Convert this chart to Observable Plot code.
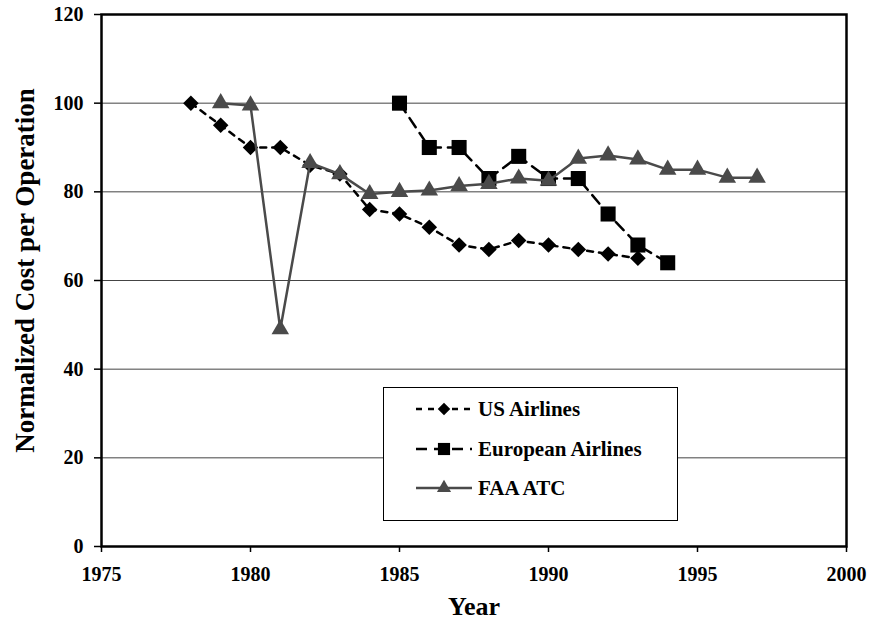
<!DOCTYPE html>
<html><head><meta charset="utf-8">
<script src="https://cdn.jsdelivr.net/npm/d3@7"></script>
<script src="https://cdn.jsdelivr.net/npm/@observablehq/plot@0.6"></script>
<style>
body{margin:0;background:#fff;}
#wrap{position:relative;width:873px;height:620px;}
#wrap svg, #wrap svg text{font-family:"Liberation Serif","Times New Roman",serif !important;font-weight:bold;}
#legend{position:absolute;left:383px;top:387px;width:295px;height:134px;border:1px solid #000;background:#fff;box-sizing:border-box;}
</style></head><body>
<div id="wrap"><div id="chart"></div><div id="legend"></div></div>
<script>
const seriesNames = ["US Airlines", "European Airlines", "FAA ATC"];
const usYears  = [1978,1979,1980,1981,1982,1983,1984,1985,1986,1987,1988,1989,1990,1991,1992,1993];
const usValues = [100, 95, 90, 90, 86, 84, 76, 75, 72, 68, 67, 69, 68, 67, 66, 65];
const euYears  = [1985,1986,1987,1988,1989,1990,1991,1992,1993,1994];
const euValues = [100, 90, 90, 83, 88, 83, 83, 75, 68, 64];
const faaYears  = [1979,1980,1981,1982,1983,1984,1985,1986,1987,1988,1989,1990,1991,1992,1993,1994,1995,1996,1997];
const faaValues = [100, 99.5, 49, 86.5, 84, 79.5, 80, 80.3, 81.3, 81.8, 83, 82.5, 87.5, 88.2, 87.3, 85, 85, 83.2, 83.2];
const xTicks = [1975,1980,1985,1990,1995,2000];
const yTicks = [0,20,40,60,80,100,120];
const gridTicks = [20,40,60,80,100];

const FONT = "Liberation Serif";
const toRows = (years, values) => years.map((x, i) => ({x, y: values[i]}));
const us = toRows(usYears, usValues);
const eu = toRows(euYears, euValues);
const faa = toRows(faaYears, faaValues);

const styles = [
  {stroke:"#000", strokeWidth:2.5, dash:"6,6", symbol:"diamond2", r:7, fill:"#000"},
  {stroke:"#000", strokeWidth:2.5, dash:"11,7", symbol:"square", r:8.5, fill:"#000"},
  {stroke:"#4a4a4a", strokeWidth:2.5, dash:null, symbol:"triangle", r:6.5, fill:"#4a4a4a"}
];

const lineMark = (data, s) => Plot.line(data, {x:"x", y:"y", stroke:s.stroke, strokeWidth:s.strokeWidth, strokeDasharray:s.dash});
const dotMark = (data, s) => Plot.dot(data, {x:"x", y:"y", symbol:()=>s.symbol, r:s.r, fill:s.fill, stroke:"none"});

const chart = Plot.plot({
  width:873, height:620,
  marginLeft:101, marginRight:27, marginTop:14, marginBottom:74,
  style:{fontFamily:FONT, fontWeight:"bold", fontSize:"20px", background:"#fff", color:"#000"},
  x:{domain:[1975,2000]},
  y:{domain:[0,120]},
  symbol:{type:"identity"},
  marks:[
    Plot.gridY(gridTicks, {stroke:"#444", strokeOpacity:1, strokeWidth:1}),
    Plot.axisX(xTicks, {tickSize:6, tickPadding:14, label:null, tickFormat:d=>String(d), strokeWidth:1.5, fontFamily:FONT, fontWeight:"bold"}),
    Plot.axisY(yTicks, {tickSize:7, tickPadding:11, label:null, strokeWidth:1.5, fontFamily:FONT, fontWeight:"bold"}),
    Plot.frame({stroke:"#000", strokeWidth:2.5}),
    lineMark(us, styles[0]), dotMark(us, styles[0]),
    lineMark(eu, styles[1]), dotMark(eu, styles[1]),
    lineMark(faa, styles[2]), dotMark(faa, styles[2]),
    Plot.text(["Year"], {frameAnchor:"bottom", dy:60, text:d=>d, fontSize:26, fontWeight:"bold", fontFamily:FONT, lineAnchor:"middle", textAnchor:"middle"}),
    Plot.text(["Normalized Cost per Operation"], {frameAnchor:"left", dx:-76, dy:-10, rotate:-90, text:d=>d, fontSize:27, fontWeight:"bold", fontFamily:FONT, lineAnchor:"middle", textAnchor:"middle"})
  ]
});
document.getElementById("chart").appendChild(chart);

// legend
const lg = d3.select("#legend").append("svg").attr("width",293).attr("height",132);
const rowY = [21, 61, 100];
seriesNames.forEach((name, i) => {
  const s = styles[i];
  const g = lg.append("g").attr("transform", `translate(0,${rowY[i]})`);
  g.append("line").attr("x1",32).attr("x2",88).attr("y1",0).attr("y2",0)
    .attr("stroke",s.stroke).attr("stroke-width",s.strokeWidth).attr("stroke-dasharray",s.dash);
  const sym = {diamond2:d3.symbolDiamond2, square:d3.symbolSquare, triangle:d3.symbolTriangle}[s.symbol];
  g.append("path").attr("transform","translate(60,0)")
    .attr("d", d3.symbol(sym, Math.PI*s.r*s.r*0.65)()).attr("fill",s.fill);
  g.append("text").attr("x",94).attr("y",0).attr("dy","0.35em").attr("font-size",21)
    .attr("font-family",FONT).attr("font-weight","bold").text(name);
});
</script>
</body></html>
